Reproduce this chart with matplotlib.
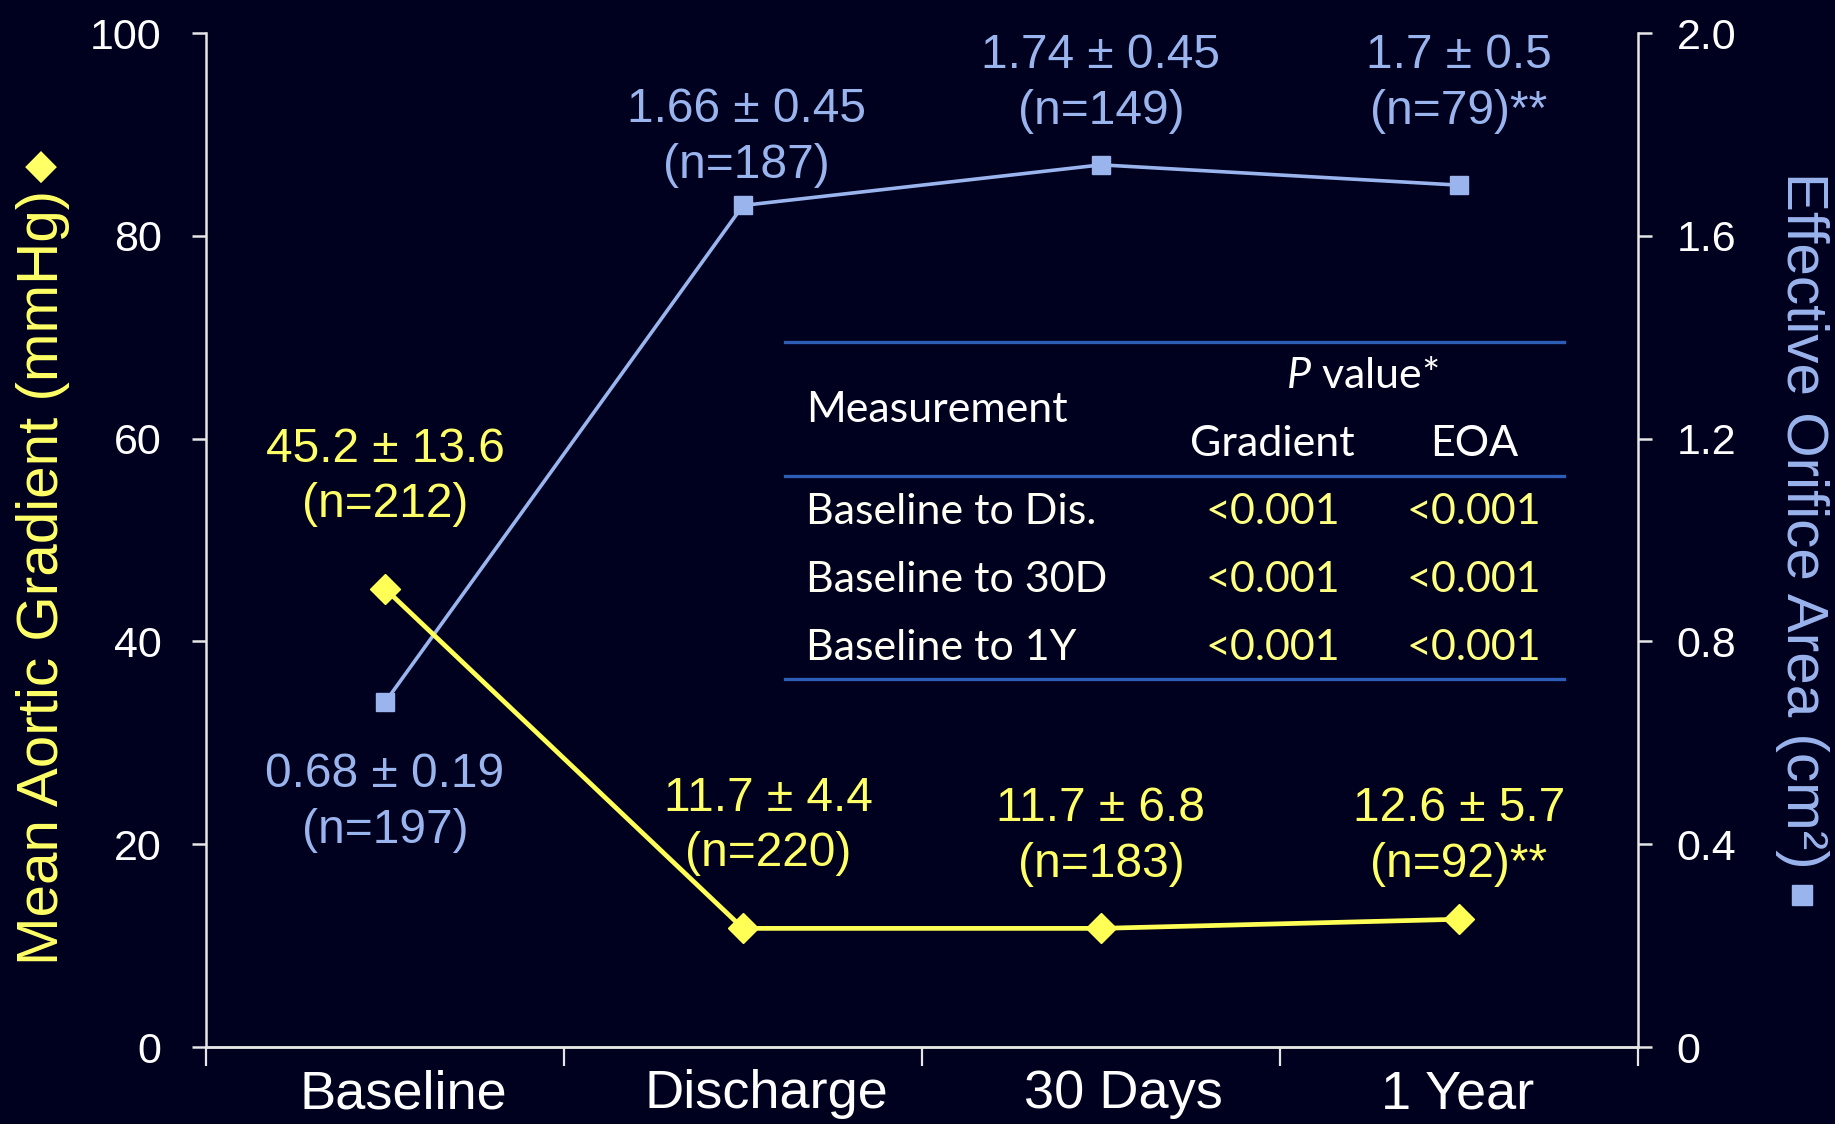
import matplotlib
matplotlib.use("Agg")
import matplotlib.pyplot as plt
import matplotlib.transforms as mtransforms

# ---- data ----
timepoints = ["Baseline", "Discharge", "30 Days", "1 Year"]
gradient = [45.2, 11.7, 11.7, 12.6]
gradient_labels = ["45.2 ± 13.6\n(n=212)", "11.7 ± 4.4\n(n=220)",
                   "11.7 ± 6.8\n(n=183)", "12.6 ± 5.7\n(n=92)**"]
eoa = [0.68, 1.66, 1.74, 1.7]
eoa_labels = ["0.68 ± 0.19\n(n=197)", "1.66 ± 0.45\n(n=187)",
              "1.74 ± 0.45\n(n=149)", "1.7 ± 0.5\n(n=79)**"]
left_ticks = [0, 20, 40, 60, 80, 100]
right_ticks = [0, 0.4, 0.8, 1.2, 1.6, 2.0]
right_ticklabels = ["0", "0.4", "0.8", "1.2", "1.6", "2.0"]
table_rows = ["Baseline to Dis.", "Baseline to 30D", "Baseline to 1Y"]
p_gradient = ["<0.001", "<0.001", "<0.001"]
p_eoa = ["<0.001", "<0.001", "<0.001"]

# ---- style ----
BG = "#00001f"
YEL = "#ffff55"
YEL_TXT = "#ffff66"
BLUE = "#9ab4ee"
AXC = "#e6e6e6"
TBL_LINE = "#2d5db5"
SANS = ["Liberation Sans", "DejaVu Sans"]
TFONT = ["Lato", "DejaVu Sans"]

plt.rcParams["font.family"] = SANS
plt.rcParams["mathtext.fontset"] = "custom"
plt.rcParams["mathtext.it"] = "Lato:italic"
plt.rcParams["mathtext.rm"] = "Lato"

fig = plt.figure(figsize=(18.35, 11.24), dpi=100, facecolor=BG)
ax = fig.add_axes([0.1123, 0.0685, 0.7803, 0.9021])
ax.set_facecolor(BG)
ax2 = ax.twinx()

x = list(range(len(timepoints)))

ax2.plot(x, eoa, color=BLUE, lw=2.6, marker="s", ms=13, mfc=BLUE, mec=BLUE, zorder=3)
ax.plot(x, gradient, color=YEL, lw=3.4, marker="D", ms=15, mfc=YEL, mec=YEL, zorder=3)
ax.set_zorder(ax2.get_zorder() + 1)
ax.patch.set_visible(False)
ax2.patch.set_visible(True)
ax2.patch.set_facecolor(BG)

ax.set_xlim(-0.5, len(timepoints) - 0.5)
ax.set_ylim(0, 100)
ax2.set_ylim(0, 2.0)

# axes styling
for a in (ax, ax2):
    for s in a.spines.values():
        s.set_color(AXC)
        s.set_linewidth(1.8)
    a.spines["top"].set_visible(False)
ax.spines["right"].set_visible(False)
ax2.spines["left"].set_visible(False)

ax.set_yticks(left_ticks)
ax.set_yticklabels([str(t) for t in left_ticks])
ax2.set_yticks(right_ticks)
ax2.set_yticklabels(right_ticklabels)
ax.tick_params(axis="y", colors=AXC, labelcolor="white", labelsize=31,
               length=10, width=1.8, direction="out", pad=22)
ax2.tick_params(axis="y", colors=AXC, labelcolor="white", labelsize=31,
                length=10, width=1.8, direction="out", pad=18)

# category ticks sit at the boundaries, labels in between
bounds = [i - 0.5 for i in range(len(timepoints) + 1)]
label_x = [0.052, 1.065, 2.062, 2.997]
ax.set_xticks(bounds)
ax.set_xticklabels([])
ax.set_xticks(label_x, minor=True)
ax.set_xticklabels(timepoints, minor=True)
ax.tick_params(axis="x", which="major", colors=AXC, length=14, width=1.6, direction="out")
ax.tick_params(axis="x", which="minor", length=0, labelcolor="white", labelsize=39, pad=16)

# axis titles with series symbols
ax.set_ylabel("Mean Aortic Gradient (mmHg)", color=YEL_TXT, fontsize=42, family=SANS)
ax.yaxis.set_label_coords(-0.095, 0.463)
fig.text(41 / 1835, 1 - 167 / 1124, "\u25c6", color=YEL_TXT, fontsize=30,
         family=["DejaVu Sans"], ha="center", va="center")

ax2.set_ylabel("Effective Orifice Area (cm\u00b2)", color=BLUE, fontsize=42,
               family=SANS, rotation=270, va="center")
ax2.yaxis.set_label_coords(1.1144, 0.519)
ax.plot([1.1144], [0.150], transform=ax.transAxes, marker="s", ms=15, color=BLUE,
        clip_on=False, zorder=5)

# value annotations
trans = mtransforms.blended_transform_factory(ax.transData, ax.transAxes)
grad_pos = [(0.0, 0.562), (1.07, 0.218), (2.0, 0.2076), (3.0, 0.2076)]
eoa_pos = [(0.0, 0.241), (1.01, 0.897), (2.0, 0.950), (3.0, 0.950)]
for (px, py), lab in zip(grad_pos, gradient_labels):
    ax.text(px, py, lab, transform=trans, ha="center", va="center",
            color=YEL_TXT, fontsize=34.5, linespacing=1.3, family=SANS)
for (px, py), lab in zip(eoa_pos, eoa_labels):
    ax.text(px, py, lab, transform=trans, ha="center", va="center",
            color=BLUE, fontsize=34.5, linespacing=1.3, family=SANS)

# p-value table
tx0, tx1 = 0.4044, 0.9485
for ly in (0.6955, 0.5629, 0.3633):
    ax.plot([tx0, tx1], [ly, ly], transform=ax.transAxes, color=TBL_LINE,
            lw=2.4, clip_on=False, zorder=4)
TS = 31
ax.text(0.4191, 0.628, "Measurement", transform=ax.transAxes, ha="left", va="center",
        color="white", fontsize=TS, family=TFONT)
ax.text(0.808, 0.6615, r"$\it{P}$ value*", transform=ax.transAxes, ha="center",
        va="center", color="white", fontsize=TS, family=TFONT)
ax.text(0.745, 0.5946, "Gradient", transform=ax.transAxes, ha="center", va="center",
        color="white", fontsize=TS, family=TFONT)
ax.text(0.8856, 0.5946, "EOA", transform=ax.transAxes, ha="center", va="center",
        color="white", fontsize=TS, family=TFONT)
row_y = [0.5277, 0.4608, 0.3939]
for ry, name, pg, pe in zip(row_y, table_rows, p_gradient, p_eoa):
    ax.text(0.4191, ry, name, transform=ax.transAxes, ha="left", va="center",
            color="#fffff2", fontsize=TS, family=TFONT)
    ax.text(0.745, ry, pg, transform=ax.transAxes, ha="center", va="center",
            color="#ffff80", fontsize=TS, family=TFONT)
    ax.text(0.8856, ry, pe, transform=ax.transAxes, ha="center", va="center",
            color="#ffff80", fontsize=TS, family=TFONT)

fig.savefig("out.png", dpi=100, facecolor=BG)
